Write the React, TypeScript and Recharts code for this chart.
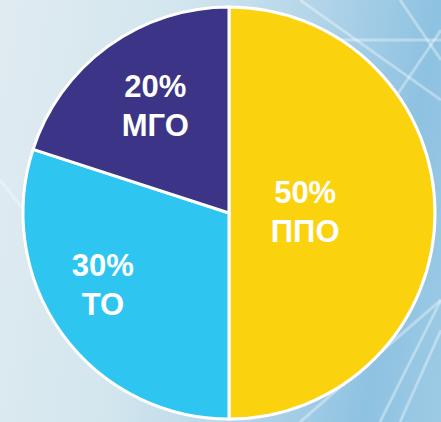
import React from 'react';
import { PieChart, Pie, Cell } from 'recharts';

const categories = ['ППО', 'ТО', 'МГО'];
const shares = [50, 30, 20];
const percentLabels = ['50%', '30%', '20%'];

const colors = ['#FBD20E', '#2EC6F1', '#3C3486'];
const labelRadiusFactor = [0.37, 0.7, 0.64];
const labelAngleShift = [2, -7, -2];

const data = categories.map((name, i) => ({ name, value: shares[i], pct: percentLabels[i] }));

const RADIAN = Math.PI / 180;

const renderLabel = (props: any) => {
  const { cx, cy, midAngle, outerRadius, index } = props;
  const r = outerRadius * labelRadiusFactor[index];
  const a = (midAngle + labelAngleShift[index]) * RADIAN;
  const x = cx + r * Math.cos(a);
  const y = cy - r * Math.sin(a);
  return (
    <text
      x={x}
      y={y}
      fill="#FFFFFF"
      textAnchor="middle"
      fontFamily="'Liberation Sans', Arial, sans-serif"
      fontWeight="bold"
      fontSize={31}
    >
      <tspan x={x} dy={-7}>{percentLabels[index]}</tspan>
      <tspan x={x} dy={39}>{categories[index]}</tspan>
    </text>
  );
};

export default function App() {
  return (
    <div
      style={{
        position: 'fixed',
        left: 0,
        top: 0,
        width: 441,
        height: 422,
        overflow: 'hidden',
        background:
          'linear-gradient(100deg, #e0ebf1 0%, #d3e6ee 35%, #b5d6e9 60%, #8ec2e1 85%, #9dcbe5 100%)',
      }}
    >
      <svg width={441} height={422} style={{ position: 'absolute', left: 0, top: 0 }}>
        <g stroke="#ffffff" strokeOpacity={0.35} strokeWidth={3} fill="none">
          <line x1={300} y1={0} x2={441} y2={100} />
          <line x1={330} y1={40} x2={441} y2={40} />
          <line x1={400} y1={0} x2={441} y2={60} />
          <line x1={441} y1={30} x2={380} y2={120} />
          <line x1={0} y1={180} x2={40} y2={230} />
          <line x1={300} y1={422} x2={441} y2={300} />
          <line x1={400} y1={422} x2={441} y2={330} />
          <line x1={441} y1={300} x2={380} y2={422} />
        </g>
      </svg>
      <div style={{ position: 'absolute', left: 0, top: 0 }}>
        <PieChart width={441} height={422} margin={{ top: 0, right: 0, bottom: 0, left: 0 }}>
          <Pie
            data={data}
            dataKey="value"
            nameKey="name"
            cx={229}
            cy={213}
            outerRadius={206}
            innerRadius={0}
            startAngle={90}
            endAngle={-270}
            stroke="#FFFFFF"
            strokeWidth={3}
            isAnimationActive={false}
            label={renderLabel}
            labelLine={false}
          >
            {data.map((d, i) => (
              <Cell key={d.name} fill={colors[i]} />
            ))}
          </Pie>
        </PieChart>
      </div>
    </div>
  );
}
